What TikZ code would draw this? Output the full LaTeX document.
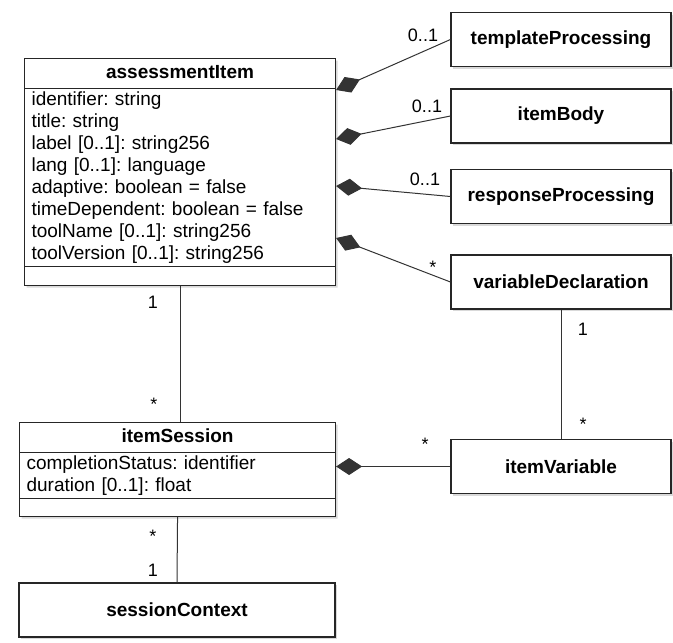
\documentclass[tikz,border=0pt]{standalone}
\usepackage{fontspec}
\setmainfont{Liberation Sans}
\usetikzlibrary{shapes.multipart,shadows,arrows.meta}
\frenchspacing

\begin{document}
\begin{tikzpicture}[x=1pt,y=-1pt,
    font=\fontsize{19}{22}\selectfont,
    clase/.style={draw=black!85,line width=1.1pt,fill=white,
      drop shadow={shadow xshift=2pt,shadow yshift=-2pt,opacity=0.3}},
    caja/.style={clase,minimum width=220pt,minimum height=54pt,font=\fontsize{19}{22}\selectfont\bfseries},
    clasepartida/.style={clase,rectangle split,rectangle split parts=3,inner xsep=7pt,inner ysep=2.5pt},
    linea/.style={draw=black!80,line width=1pt},
    comp/.style={linea,{Diamond[length=26pt,width=17pt]}-},
    mult/.style={font=\fontsize{18}{20}\selectfont,inner sep=0pt}]
    \useasboundingbox (0,0) rectangle (673,643);

    % clases
    \node[clasepartida,text width=297pt,anchor=north west] (ai) at (24,58)
      {\hbox to \hsize{\hfil\bfseries\rule[-7pt]{0pt}{24pt}assessmentItem\hfil}
       \nodepart{two}identifier: string\\ title: string\\ label [0..1]: string256\\
       lang [0..1]: language\\ adaptive: boolean = false\\ timeDependent: boolean = false\\
       toolName [0..1]: string256\\ toolVersion [0..1]: string256
       \nodepart{three}\rule{0pt}{13pt}};
    \node[clasepartida,text width=302pt,anchor=north west] (is) at (19,422)
      {\hbox to \hsize{\hfil\bfseries\rule[-7pt]{0pt}{24pt}itemSession\hfil}
       \nodepart{two}completionStatus: identifier\\ duration [0..1]: float
       \nodepart{three}\rule{0pt}{12pt}};

    \node[caja] (tp) at (561,39.5) {templateProcessing};
    \node[caja] (ib) at (561,116) {itemBody};
    \node[caja] (rp) at (561,196.5) {responseProcessing};
    \node[caja] (vd) at (561,282) {variableDeclaration};
    \node[caja] (iv) at (561,466.5) {itemVariable};
    \node[caja,minimum width=316pt] (sc) at (177,610) {sessionContext};

    % multiplicidades
    \node[mult] (m1) at (423,35) {0..1};
    \node[mult] (m2) at (427,106) {0..1};
    \node[mult] (m3) at (425,179) {0..1};
    \node[mult] (m4) at (433,267) {*};
    \node[mult] (m5) at (153,302) {1};
    \node[mult] (m6) at (154,404) {*};
    \node[mult] (m7) at (583,329) {1};
    \node[mult] (m8) at (583,424) {*};
    \node[mult] (m9) at (425,444) {*};
    \node[mult] (m10) at (153,536) {*};
    \node[mult] (m11) at (153,570) {1};

    \draw[comp] ([yshift=-32pt]ai.north east) -- (tp.west);
    \draw[comp] ([yshift=-81pt]ai.north east) -- (ib.west);
    \draw[comp] ([yshift=-128pt]ai.north east) -- (rp.west);
    \draw[comp] ([yshift=-180pt]ai.north east) -- (vd.west);
    \draw[linea] (ai.south) -- (ai.south |- is.north);
    \draw[linea] (vd.south) -- (iv.north);
    \draw[comp] (iv.west -| is.east) -- (iv.west);
    \draw[linea] (is.south) -- (sc.north);
\end{tikzpicture}
\end{document}
